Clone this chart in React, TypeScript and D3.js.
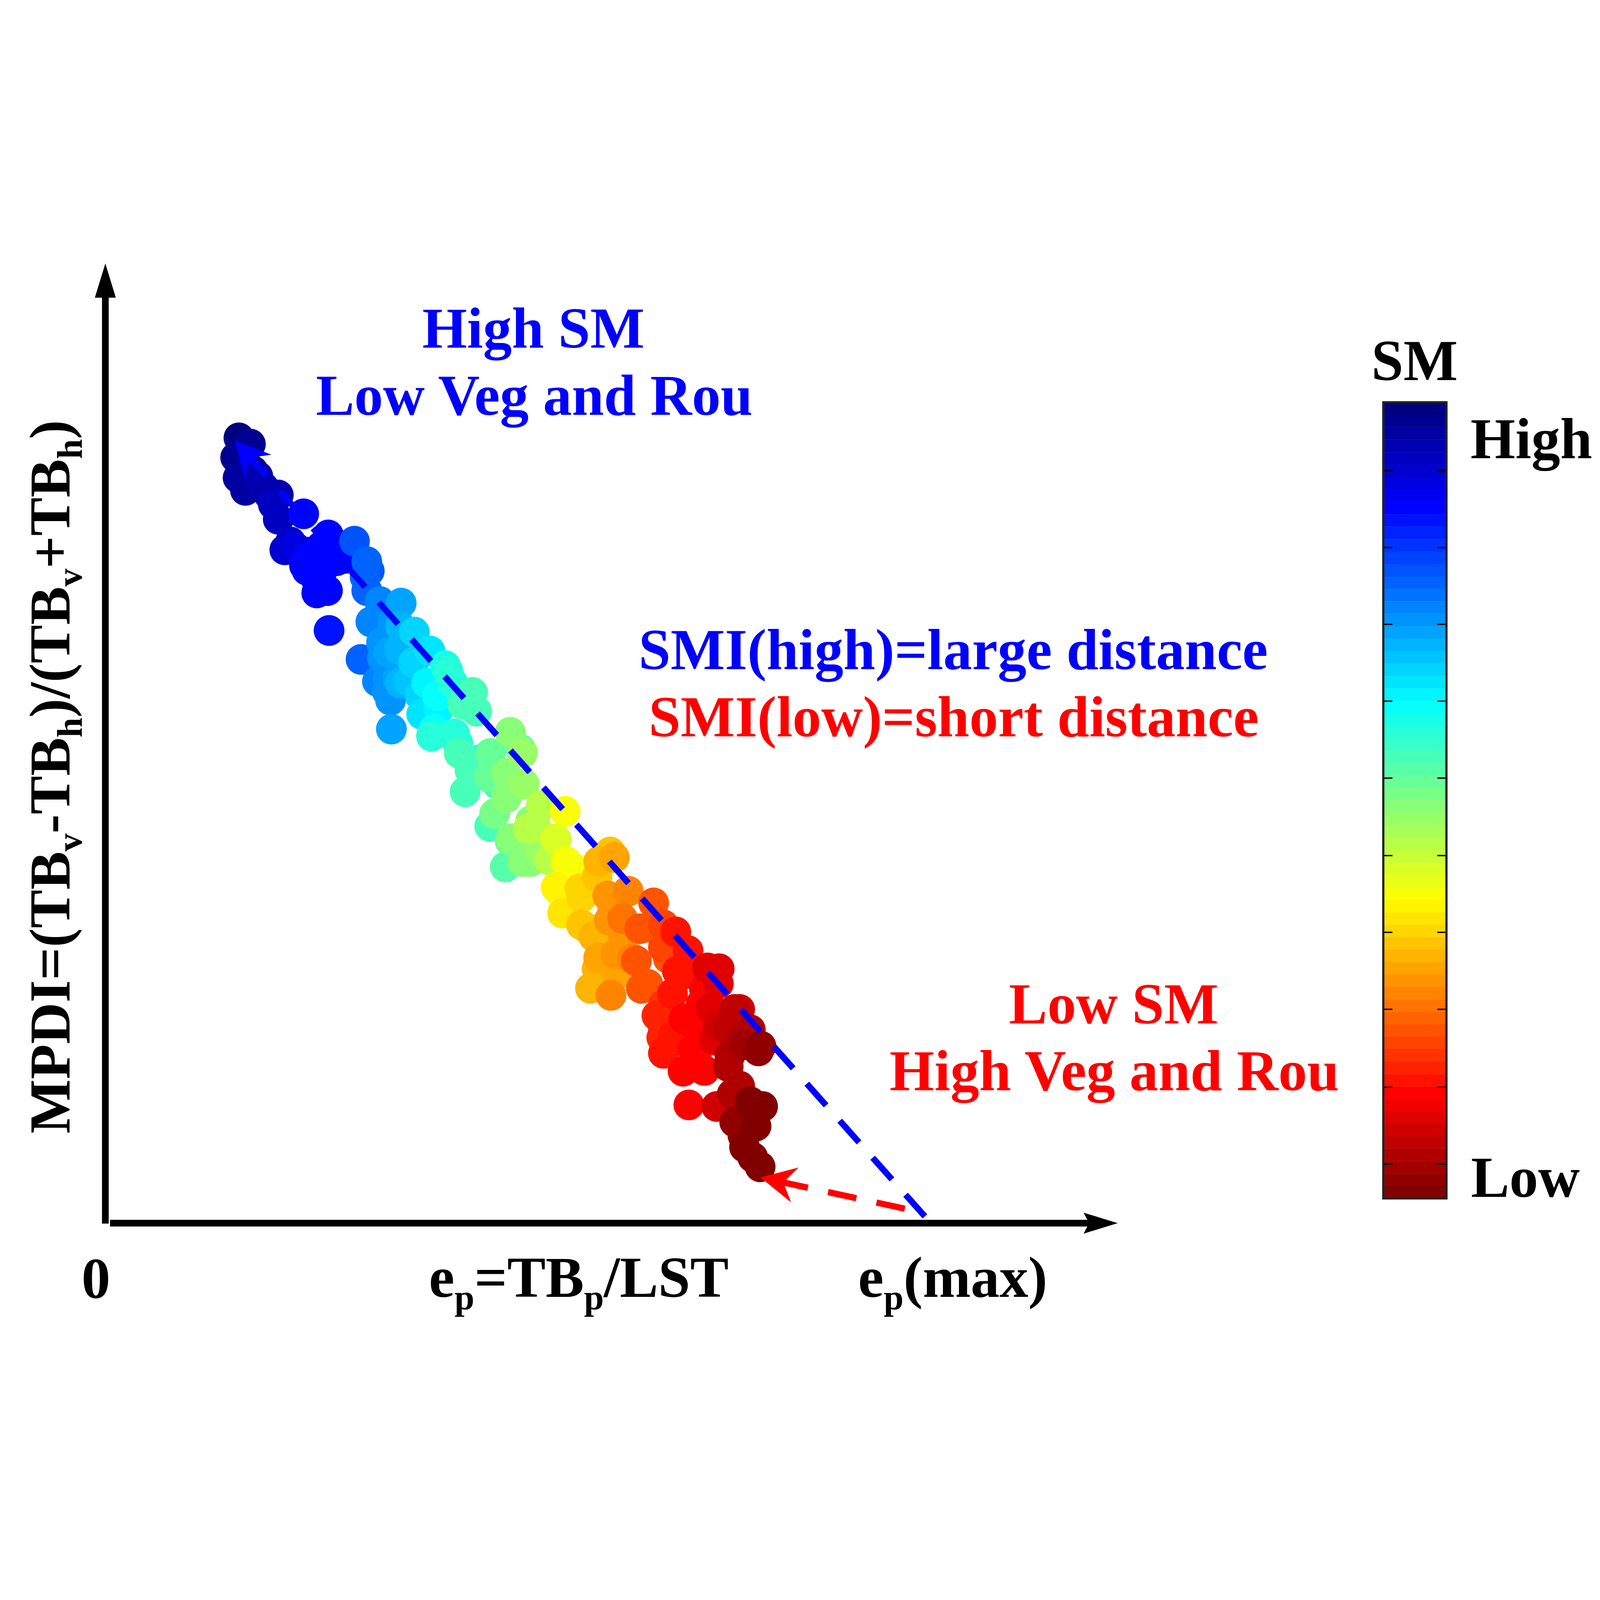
import React from 'react';
import * as d3 from 'd3';

// e_p (0 = origin, 1 = e_p(max)), MPDI (0 = x axis, 1 = top of the dry-wet line), SM (1 = High, 0 = Low)
const epValues = [
  0.163, 0.177, 0.159, 0.162, 0.171, 0.186, 0.200, 0.211, 0.211, 0.242, 0.219, 0.232, 0.246, 0.263, 0.277, 0.304, 0.292, 0.319,
  0.246, 0.263, 0.258, 0.271, 0.317, 0.319, 0.273, 0.361, 0.324, 0.336, 0.377, 0.360, 0.337, 0.396, 0.312, 0.346, 0.415,
  0.359, 0.345, 0.344, 0.357, 0.370, 0.349, 0.348, 0.386, 0.398, 0.384, 0.405, 0.418, 0.424, 0.448, 0.453, 0.436, 0.430,
  0.432, 0.445, 0.439, 0.468, 0.470, 0.494, 0.509, 0.511, 0.489, 0.475, 0.532, 0.561, 0.516, 0.495, 0.549, 0.616, 0.489,
  0.525, 0.502, 0.550, 0.519, 0.542, 0.562, 0.554, 0.558, 0.579, 0.602, 0.621, 0.613, 0.638, 0.669, 0.581, 0.596, 0.615,
  0.631, 0.652, 0.681, 0.696, 0.711, 0.602, 0.623, 0.648, 0.681, 0.698, 0.592, 0.617, 0.654, 0.692, 0.735, 0.748, 0.727,
  0.673, 0.706, 0.769, 0.748, 0.679, 0.800, 0.777, 0.717, 0.681,
  0.705, 0.721, 0.739, 0.760, 0.760, 0.774, 0.780, 0.797, 0.712, 0.746, 0.765, 0.802, 0.794, 0.778, 0.790, 0.799,
  0.193, 0.205, 0.180, 0.226, 0.245, 0.267, 0.282, 0.257, 0.243, 0.295, 0.272,
  0.322, 0.335, 0.351, 0.338, 0.363, 0.360, 0.376, 0.332,
  0.392, 0.407, 0.419, 0.438, 0.426, 0.401,
  0.457, 0.479, 0.500, 0.469, 0.494, 0.519, 0.531, 0.509, 0.488, 0.507,
  0.569, 0.550, 0.581, 0.600, 0.619, 0.587, 0.606, 0.631, 0.643, 0.625, 0.600,
  0.668, 0.687, 0.662, 0.681, 0.706, 0.731, 0.749, 0.718, 0.743, 0.693, 0.768, 0.787, 0.762, 0.731, 0.681,
  0.774, 0.768, 0.787, 0.780,
];

const mpdiValues = [
  1.003, 0.995, 0.978, 0.952, 0.936, 0.954, 0.930, 0.930, 0.899, 0.906, 0.860, 0.863, 0.849, 0.864, 0.871, 0.871, 0.849, 0.845,
  0.834, 0.823, 0.805, 0.808, 0.825, 0.808, 0.757, 0.792, 0.768, 0.784, 0.755, 0.762, 0.742, 0.731, 0.720, 0.729, 0.712,
  0.733, 0.696, 0.679, 0.696, 0.692, 0.631, 0.668, 0.650, 0.622, 0.674, 0.674, 0.705, 0.690, 0.678, 0.654, 0.663, 0.613,
  0.600, 0.578, 0.551, 0.570, 0.600, 0.627, 0.601, 0.561, 0.543, 0.523, 0.533, 0.526, 0.504, 0.491, 0.491, 0.474, 0.574,
  0.507, 0.490, 0.490, 0.462, 0.464, 0.462, 0.424, 0.396, 0.427, 0.462, 0.467, 0.418, 0.424, 0.409, 0.381, 0.366, 0.387,
  0.389, 0.376, 0.381, 0.372, 0.348, 0.339, 0.344, 0.335, 0.352, 0.322, 0.300, 0.291, 0.300, 0.293, 0.326, 0.306, 0.280,
  0.265, 0.261, 0.272, 0.252, 0.237, 0.226, 0.237, 0.222, 0.217,
  0.194, 0.216, 0.275, 0.247, 0.200, 0.273, 0.228, 0.220, 0.151, 0.149, 0.165, 0.149, 0.124, 0.112, 0.084, 0.072,
  0.940, 0.918, 0.961, 0.870, 0.857, 0.866, 0.846, 0.823, 0.840, 0.859, 0.879,
  0.833, 0.794, 0.768, 0.722, 0.742, 0.690, 0.716, 0.692,
  0.690, 0.657, 0.683, 0.664, 0.625, 0.631,
  0.592, 0.560, 0.560, 0.507, 0.488, 0.514, 0.475, 0.462, 0.455, 0.605,
  0.455, 0.429, 0.416, 0.442, 0.403, 0.377, 0.351, 0.371, 0.338, 0.318, 0.325,
  0.377, 0.338, 0.305, 0.279, 0.318, 0.299, 0.325, 0.253, 0.234, 0.240, 0.273, 0.247, 0.214, 0.195, 0.247,
  0.175, 0.129, 0.155, 0.097,
];

const smValues = [
  1, 0.99, 0.99, 0.97, 0.97, 0.96, 0.95, 0.95, 0.93, 0.875, 0.92, 0.9, 0.875, 0.875, 0.87, 0.8, 0.87, 0.78,
  0.875, 0.875, 0.875, 0.87, 0.78, 0.77, 0.865, 0.71, 0.75, 0.74, 0.67, 0.7, 0.73, 0.65, 0.78, 0.72, 0.6,
  0.7, 0.725, 0.725, 0.71, 0.69, 0.71, 0.725, 0.65, 0.59, 0.66, 0.62, 0.59, 0.58, 0.55, 0.56, 0.56, 0.58,
  0.56, 0.55, 0.55, 0.52, 0.52, 0.49, 0.47, 0.47, 0.5, 0.51, 0.44, 0.375, 0.45, 0.49, 0.42, 0.31, 0.5,
  0.45, 0.49, 0.425, 0.49, 0.44, 0.375, 0.375, 0.35, 0.34, 0.3, 0.29, 0.275, 0.25, 0.2, 0.31, 0.3, 0.275,
  0.24, 0.21, 0.19, 0.15, 0.14, 0.29, 0.275, 0.21, 0.19, 0.14, 0.3, 0.26, 0.2, 0.14, 0.1, 0.09, 0.125,
  0.16, 0.125, 0.06, 0.075, 0.16, 0.01, 0.04, 0.125, 0.15,
  0.125, 0.125, 0.1, 0.06, 0.05, 0.075, 0.025, 0.01, 0.125, 0.075, 0.04, 0, 0, 0.01, 0, 0,
  0.96, 0.94, 0.98, 0.92, 0.9, 0.88, 0.875, 0.88, 0.89, 0.87, 0.875,
  0.8, 0.75, 0.73, 0.73, 0.7, 0.7, 0.67, 0.74,
  0.64, 0.63, 0.62, 0.59, 0.58, 0.62,
  0.58, 0.56, 0.53, 0.55, 0.53, 0.5, 0.47, 0.5, 0.54, 0.54,
  0.38, 0.37, 0.34, 0.32, 0.29, 0.32, 0.3, 0.27, 0.26, 0.28, 0.3,
  0.22, 0.2, 0.2, 0.17, 0.15, 0.12, 0.1, 0.13, 0.1, 0.15, 0.07, 0.05, 0.05, 0.125, 0.16,
  0.04, 0.01, 0, 0,
];

// dashed annotation arrows: [tail, tip]
const blueArrowEp = [1.0, 0.1577];
const blueArrowMpdi = [0.0086, 1.0];
const redArrowEp = [0.9755, 0.7993];
const redArrowMpdi = [0.0185, 0.0584];

const colorbarTicks = [0.043, 0.1396, 0.2375, 0.3342, 0.4306, 0.5279, 0.6246, 0.7211, 0.8175, 0.9142];
const colorbarLevels = 64;

const W = 7169;
const H = 4888;
const FONT = '"Liberation Serif", "Times New Roman", serif';
const BIG = 258;
const SUB = 160;
const SUB_DY = 55;

function jet(t: number) {
  const c = (v: number) => Math.max(0, Math.min(1, v));
  const r = c(1.5 - Math.abs(4 * t - 3));
  const g = c(1.5 - Math.abs(4 * t - 2));
  const b = c(1.5 - Math.abs(4 * t - 1));
  return d3.rgb(r * 255, g * 255, b * 255).formatHex();
}

// SM=1 (High) sits at the dark-blue end of jet
const smColor = (sm: number) => jet(Math.round((1 - sm) * (colorbarLevels - 1)) / (colorbarLevels - 1));

function arrowHead(tx: number, ty: number, fx: number, fy: number) {
  const len = Math.hypot(tx - fx, ty - fy);
  const ux = (tx - fx) / len, uy = (ty - fy) / len;
  const nx = -uy, ny = ux;
  const L = 158, HW = 80, N = 105;
  const pts = [
    [tx, ty],
    [tx - L * ux + HW * nx, ty - L * uy + HW * ny],
    [tx - N * ux, ty - N * uy],
    [tx - L * ux - HW * nx, ty - L * uy - HW * ny],
  ];
  return 'M' + pts.map(p => `${p[0]},${p[1]}`).join('L') + 'Z';
}

function DashedArrow({ ep, mpdi, color, x, y }: { ep: number[]; mpdi: number[]; color: string; x: d3.ScaleLinear<number, number>; y: d3.ScaleLinear<number, number> }) {
  const x0 = x(ep[0]), y0 = y(mpdi[0]), x1 = x(ep[1]), y1 = y(mpdi[1]);
  const len = Math.hypot(x1 - x0, y1 - y0);
  const ux = (x1 - x0) / len, uy = (y1 - y0) / len;
  return (
    <g>
      <line x1={x0} y1={y0} x2={x1 - 100 * ux} y2={y1 - 100 * uy} stroke={color} strokeWidth={28} strokeDasharray="130 92" />
      <path d={arrowHead(x1, y1, x0, y0)} fill={color} />
    </g>
  );
}

export default function App() {
  const x = d3.scaleLinear().domain([0, 1]).range([472, 4144]);
  const y = d3.scaleLinear().domain([0, 1]).range([4340, 832]);
  const cb = d3.scaleLinear().domain([0, 1]).range([4229, 662]);
  const cbLeft = 6198, cbRight = 6481;

  const ox = x(0), oy = y(0);

  // band i runs from the top (High) downwards
  const bands = d3.range(colorbarLevels).map(i => ({
    top: cb(1 - i / colorbarLevels),
    bottom: cb(1 - (i + 1) / colorbarLevels),
    color: jet(i / (colorbarLevels - 1)),
  }));

  // wetter points first, so the drier (red) ones lie on top
  const points = epValues
    .map((ep, i) => ({ ep, mpdi: mpdiValues[i], sm: smValues[i] }))
    .sort((a, b) => b.sm - a.sm);

  return (
    <div style={{ position: 'fixed', left: 0, top: 0, width: '100vw', height: '100vh', background: '#fff' }}>
      <svg viewBox={`0 0 ${W} ${H}`} preserveAspectRatio="xMidYMid meet" style={{ display: 'block', width: '100vw', height: '100vh' }} fontFamily={FONT} fontWeight="bold">
        <rect width={W} height={H} fill="#fff" />

        {/* scatter */}
        {points.map((d, i) => (
          <circle key={i} cx={x(d.ep)} cy={y(d.mpdi)} r={69} fill={smColor(d.sm)} />
        ))}

        {/* axes with arrows */}
        <rect x={ox - 15} y={193} width={30} height={oy + 2 - 193} fill="#000" />
        <path d={`M${ox},40 L${ox + 47},193 L${ox - 47},193 Z`} fill="#000" />
        <rect x={ox + 21} y={oy - 15} width={4891 - ox - 21} height={30} fill="#000" />
        <path d={`M5008,${oy} L4855,${oy - 47} L4880,${oy} L4855,${oy + 47} Z`} fill="#000" />

        <DashedArrow ep={blueArrowEp} mpdi={blueArrowMpdi} color="#0000ff" x={x} y={y} />
        <DashedArrow ep={redArrowEp} mpdi={redArrowMpdi} color="#ff0000" x={x} y={y} />

        {/* annotations */}
        <g fontSize={BIG} textAnchor="middle">
          <text x={2390} y={418} fill="#0000ff">High SM</text>
          <text x={2394} y={719} fill="#0000ff">Low Veg and Rou</text>
          <text x={4271} y={1857} fill="#0000ff">SMI(high)=large distance</text>
          <text x={4273} y={2158} fill="#ff0000">SMI(low)=short distance</text>
          <text x={4990} y={3445} fill="#ff0000">Low SM</text>
          <text x={4993} y={3744} fill="#ff0000">High Veg and Rou</text>
        </g>

        {/* axis labels */}
        <g fontSize={BIG} fill="#000">
          <text x={430} y={4675} textAnchor="middle">0</text>
          <text x={1922} y={4671}>
            e<tspan fontSize={SUB} dy={SUB_DY}>p</tspan><tspan dy={-SUB_DY}>=TB</tspan><tspan fontSize={SUB} dy={SUB_DY}>p</tspan><tspan dy={-SUB_DY}>/LST</tspan>
          </text>
          <text x={3845} y={4671}>
            e<tspan fontSize={SUB} dy={SUB_DY}>p</tspan><tspan dy={-SUB_DY}>(max)</tspan>
          </text>
          <text transform="translate(311,2340) rotate(-90)" textAnchor="middle">
            MPDI=(TB<tspan fontSize={SUB} dy={SUB_DY}>v</tspan><tspan dy={-SUB_DY}>-TB</tspan><tspan fontSize={SUB} dy={SUB_DY}>h</tspan><tspan dy={-SUB_DY}>)/(TB</tspan><tspan fontSize={SUB} dy={SUB_DY}>v</tspan><tspan dy={-SUB_DY}>+TB</tspan><tspan fontSize={SUB} dy={SUB_DY}>h</tspan><tspan dy={-SUB_DY}>)</tspan>
          </text>
        </g>

        {/* colorbar */}
        <g>
          {bands.map((b, i) => (
            <rect key={i} x={cbLeft} y={b.top} width={cbRight - cbLeft} height={b.bottom - b.top + 0.6} fill={b.color} />
          ))}
          {colorbarTicks.map((t, i) => (
            <g key={i} stroke="#000" strokeWidth={6}>
              <line x1={cbLeft} x2={cbLeft + 41} y1={cb(t)} y2={cb(t)} />
              <line x1={cbRight - 41} x2={cbRight} y1={cb(t)} y2={cb(t)} />
            </g>
          ))}
          <rect x={cbLeft} y={cb(1)} width={cbRight - cbLeft} height={cb(0) - cb(1)} fill="none" stroke="#222" strokeWidth={10} />
          <g fontSize={BIG} fill="#000">
            <text x={6338} y={563} textAnchor="middle">SM</text>
            <text x={6589} y={912}>High</text>
            <text x={6591} y={4222}>Low</text>
          </g>
        </g>
      </svg>
    </div>
  );
}
